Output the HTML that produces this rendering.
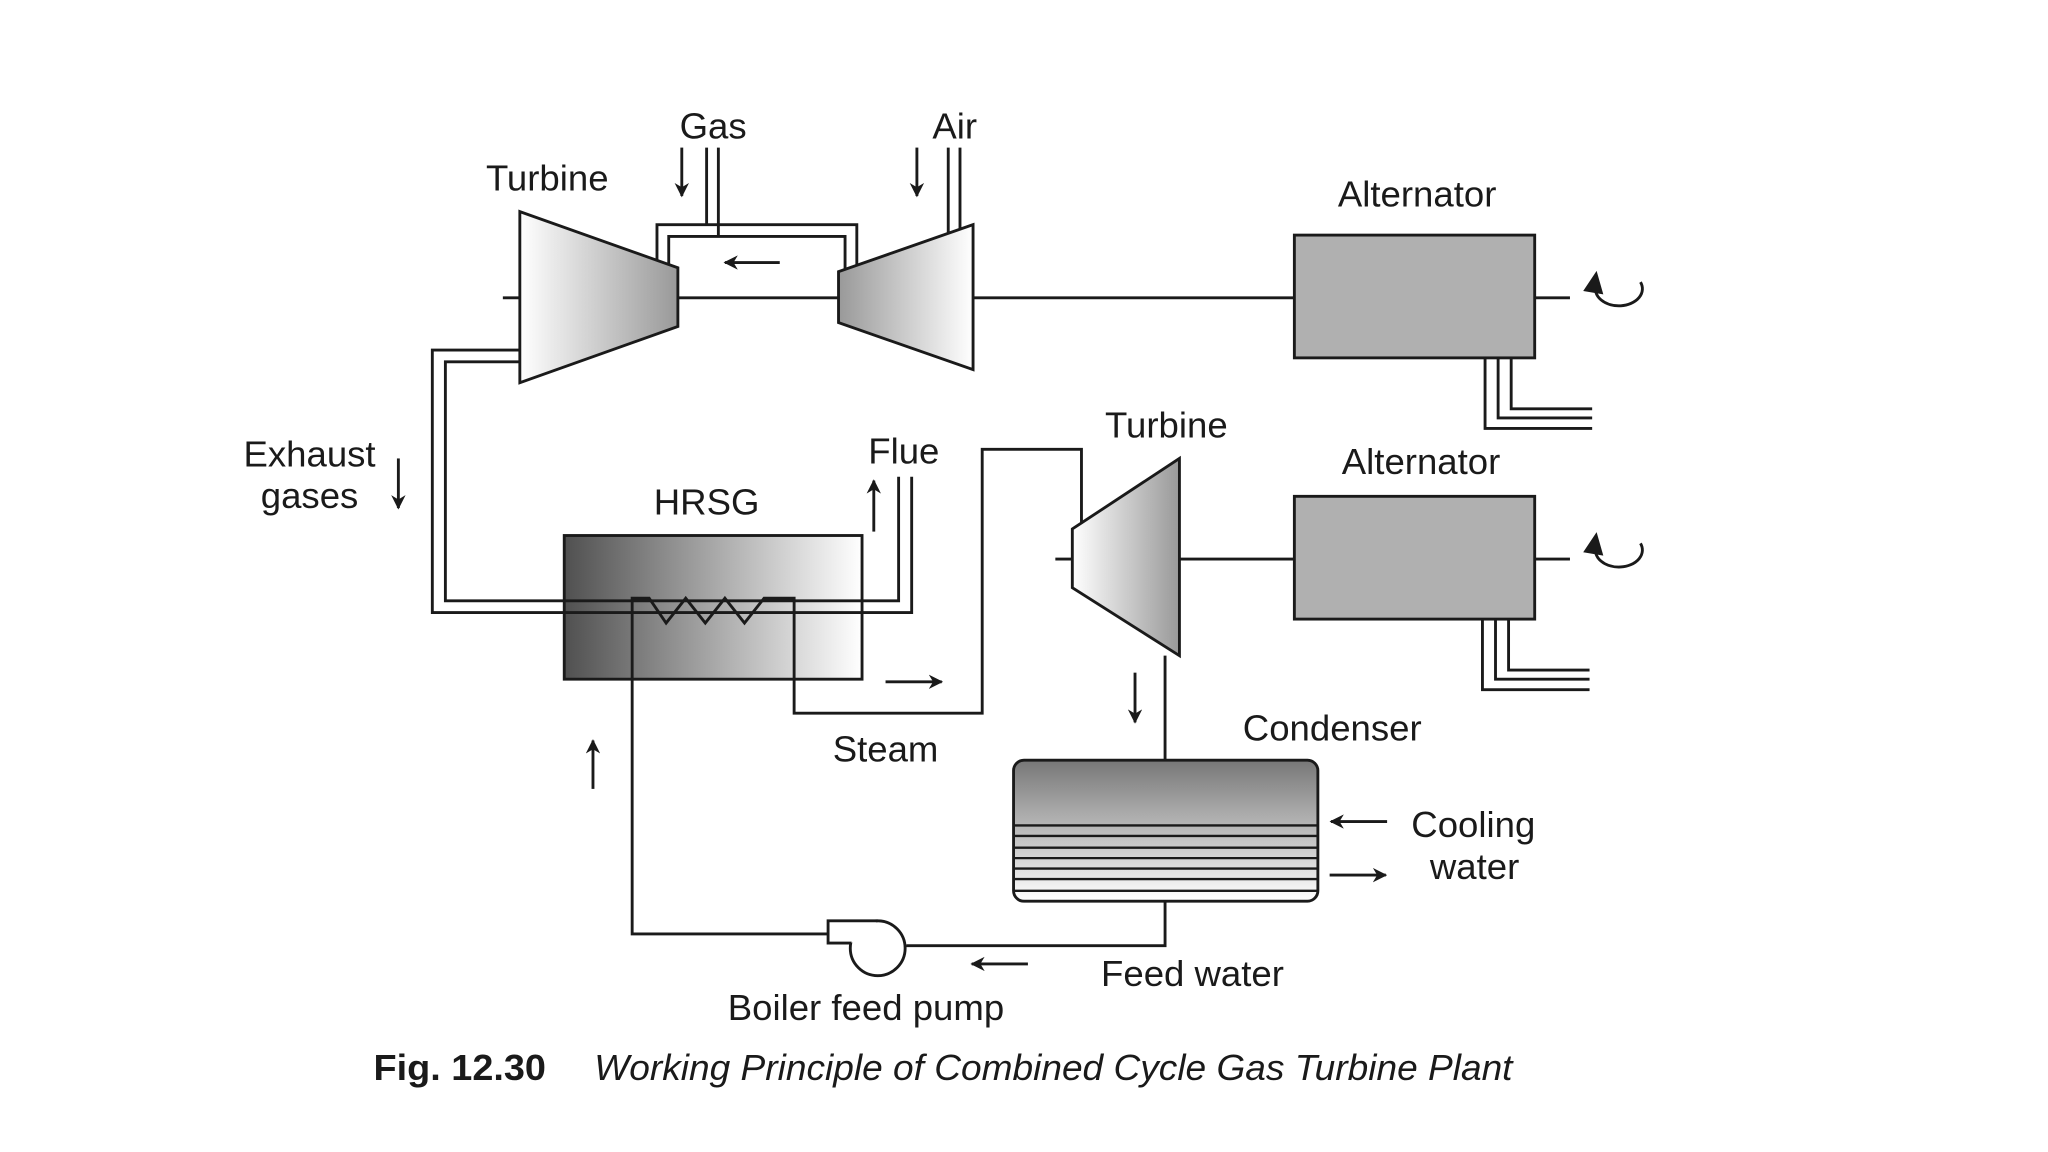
<!DOCTYPE html>
<html><head><meta charset="utf-8"><style>html,body{margin:0;padding:0;background:#fff}svg{display:block}</style></head><body>
<svg width="2048" height="1152" viewBox="0 0 1568 882" xmlns="http://www.w3.org/2000/svg" font-family="Liberation Sans, sans-serif" fill="none" stroke="#1a1a1a" stroke-width="2.2">
<defs>
<linearGradient id="gt" x1="0" x2="1"><stop offset="0" stop-color="#fff"/><stop offset="1" stop-color="#999"/></linearGradient>
<linearGradient id="cp" x1="0" x2="1"><stop offset="0" stop-color="#999"/><stop offset="1" stop-color="#fff"/></linearGradient>
<linearGradient id="hr" x1="0" x2="1"><stop offset="0" stop-color="#505050"/><stop offset="1" stop-color="#fff"/></linearGradient>
<linearGradient id="cd" x1="0" x2="0" y1="0" y2="1"><stop offset="0" stop-color="#777"/><stop offset="1" stop-color="#fff"/></linearGradient>
<marker id="ah" viewBox="0 0 10 10" refX="9" refY="5" markerWidth="5" markerHeight="5" orient="auto"><path d="M0,0 L10,5 L0,10 L3,5 z" fill="#1a1a1a" stroke="none"/></marker>
</defs>
<rect x="0" y="0" width="1568" height="882" fill="#fff" stroke="none"/>
<path d="M385,228H398M519,228H642M745,228H990M1175,228H1202M808,428H821M903,428H990M1175,428H1202"/>
<path d="M503,200V172H656V205M512,205V181H647V208"/>
<path d="M541,113V172M550,113V181M726,113V178M735,113V176"/>
<rect x="432" y="410" width="228" height="110" fill="url(#hr)"/>
<path d="M398,268H331V469H698V365M398,277H341V460H688V365"/>
<polygon points="398,162 519,205 519,250 398,293" fill="url(#gt)"/>
<polygon points="745,172 642,208 642,247 745,283" fill="url(#cp)"/>
<rect x="991" y="180" width="184" height="94" fill="#b0b0b0"/>
<rect x="991" y="380" width="184" height="94" fill="#b0b0b0"/>
<path d="M1137,274V328H1219M1147,274V320H1219M1157,274V313H1219"/>
<path d="M1135,474V528H1217M1145,474V520H1217M1155,474V513H1217"/>
<path d="M1222,218 A18,13 0 1 0 1256,216" /><path d="M1222,418 A18,13 0 1 0 1256,416"/>
<path d="M1214,222 L1222,210 L1226,224z" fill="#1a1a1a"/><path d="M1214,422 L1222,410 L1226,424z" fill="#1a1a1a"/>
<path d="M484,520V458H497L510,477L525,458L540,477L555,458L570,477L585,458L594,458H608V546H752V344H828V400"/>
<polygon points="821,405 903,351 903,502 821,450" fill="url(#gt)"/>
<path d="M892,502V582"/>
<rect x="776" y="582" width="233" height="108" rx="8" fill="url(#cd)"/>
<path d="M777,632H1008M777,640H1008M777,649H1008M777,657H1008M777,665H1008M777,673H1008M777,682H1008" stroke-width="1.8"/>
<path d="M892,690V724H694M634,715H484V520"/>
<circle cx="672" cy="726" r="21" fill="#fff"/>
<path d="M672,705H634V722H652" fill="#fff"/>
<g marker-end="url(#ah)">
<path d="M522,113V150"/><path d="M702,113V150"/><path d="M597,201H555"/>
<path d="M305,351V389"/><path d="M669,407V368"/><path d="M678,522H721"/>
<path d="M869,515V553"/><path d="M454,604V567"/><path d="M1062,629H1019"/><path d="M1018,670H1061"/><path d="M787,738H744"/>
</g>
<g fill="#1a1a1a" stroke="none" font-size="28" text-anchor="middle">
<text x="546" y="106">Gas</text><text x="731" y="106">Air</text>
<text x="419" y="146">Turbine</text><text x="1085" y="158">Alternator</text>
<text x="893" y="335">Turbine</text><text x="1088" y="363">Alternator</text>
<text x="237" y="357">Exhaust</text><text x="237" y="389">gases</text>
<text x="692" y="355">Flue</text><text x="541" y="394">HRSG</text>
<text x="678" y="583">Steam</text><text x="1020" y="567">Condenser</text>
<text x="1128" y="641">Cooling</text><text x="1129" y="673">water</text>
<text x="913" y="755">Feed water</text><text x="663" y="781">Boiler feed pump</text>
<text x="286" y="827" text-anchor="start" font-weight="bold" textLength="132" lengthAdjust="spacingAndGlyphs">Fig. 12.30</text>
<text x="455" y="827" text-anchor="start" font-style="italic" textLength="703" lengthAdjust="spacingAndGlyphs">Working Principle of Combined Cycle Gas Turbine Plant</text>
</g>
</svg>
</body></html>
